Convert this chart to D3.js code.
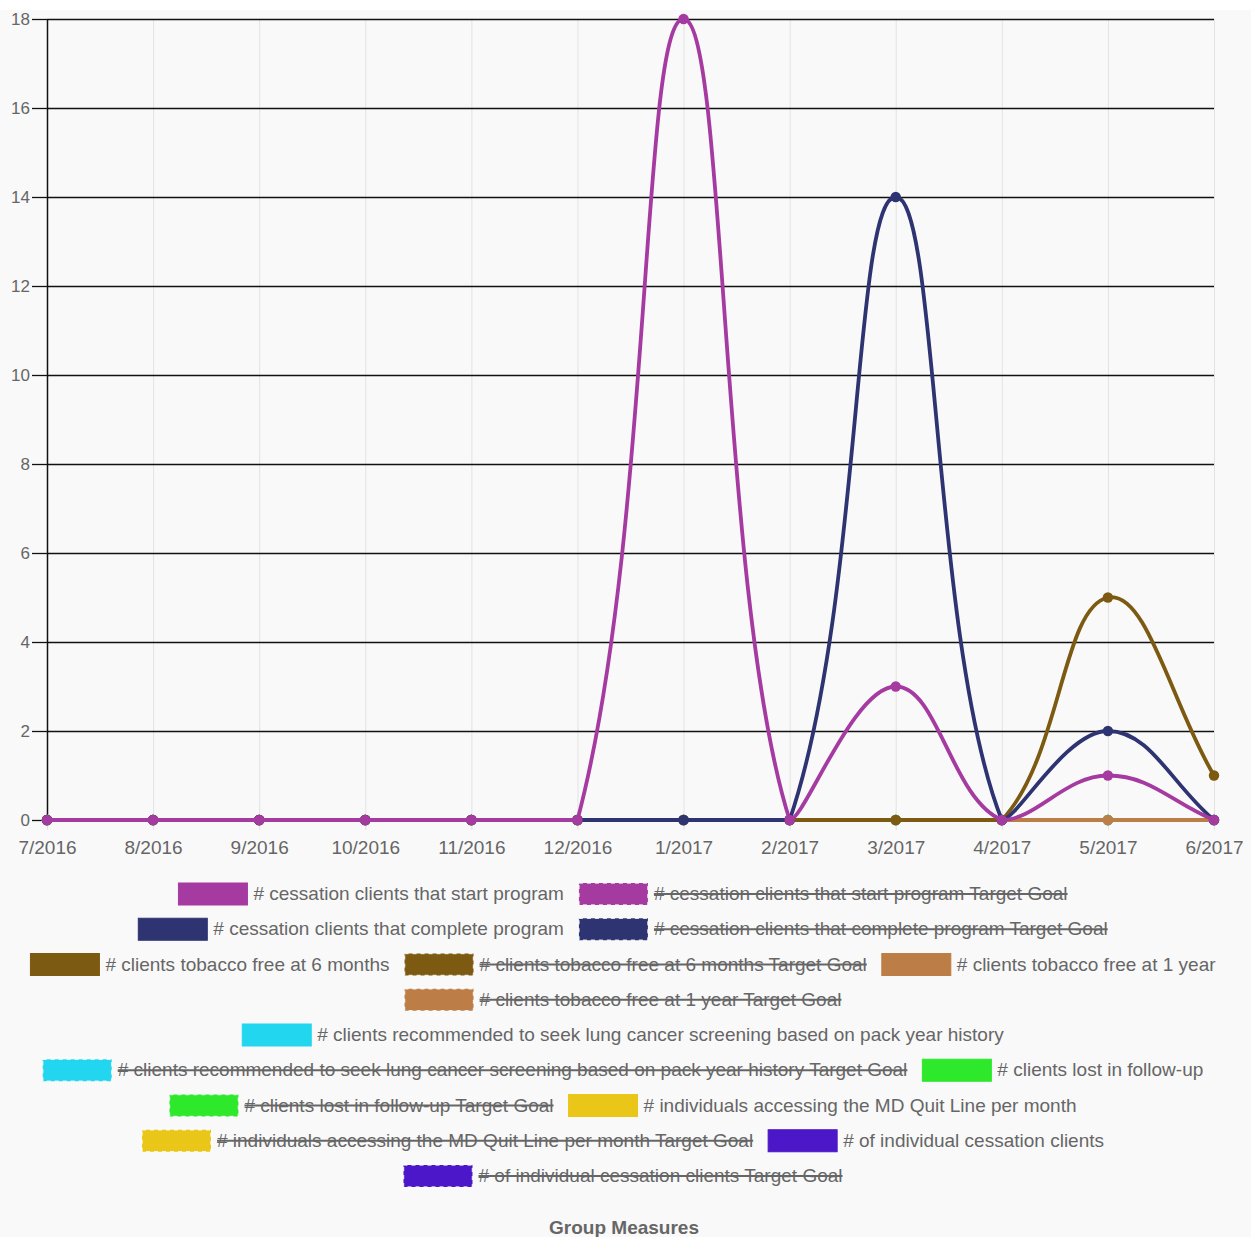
<!DOCTYPE html>
<html><head><meta charset="utf-8">
<script src="https://cdn.jsdelivr.net/npm/d3@7/dist/d3.min.js"></script>
<style>
html,body{margin:0;padding:0;background:#fff;}
svg{display:block;font-family:"Liberation Sans",Arial,Helvetica,sans-serif;}
</style>
</head><body>
<svg id="c" width="1251" height="1237"></svg>
<script>
// ---------- DATA ----------
const months = ["7/2016","8/2016","9/2016","10/2016","11/2016","12/2016","1/2017","2/2017","3/2017","4/2017","5/2017","6/2017"];
const yTicks = [0,2,4,6,8,10,12,14,16,18];

const startProgram      = [0,0,0,0,0,0,18,0,3,0,1,0];
const completeProgram   = [0,0,0,0,0,0,0,0,14,0,2,0];
const freeSixMonths     = [0,0,0,0,0,0,0,0,0,0,5,1];
const freeOneYear       = [0,0,0,0,0,0,0,0,0,0,0,0];
const lungScreening     = [0,0,0,0,0,0,0,0,0,0,0,0];
const lostFollowUp      = [0,0,0,0,0,0,0,0,0,0,0,0];
const quitLine          = [0,0,0,0,0,0,0,0,0,0,0,0];
const individualClients = [0,0,0,0,0,0,0,0,0,0,0,0];

const seriesNames = [
  "# cessation clients that start program",
  "# cessation clients that complete program",
  "# clients tobacco free at 6 months",
  "# clients tobacco free at 1 year",
  "# clients recommended to seek lung cancer screening based on pack year history",
  "# clients lost in follow-up",
  "# individuals accessing the MD Quit Line per month",
  "# of individual cessation clients"
];
const seriesValues = [startProgram, completeProgram, freeSixMonths, freeOneYear, lungScreening, lostFollowUp, quitLine, individualClients];
const seriesColors = ["#a53ba1","#2e3472","#7c5a12","#bd7d46","#22d6ef","#2de82b","#e9c618","#4b17c8"];

const goalSuffix = " Target Goal";
const chartTitle = "Group Measures";

(function(){
// ---------- LAYOUT ----------
const W = 1251, H = 1237;
const pL = 47, pR = 1214, pT = 19, pB = 820;
const svg = d3.select("#c");

svg.append("rect").attr("x",0).attr("y",10).attr("width",W).attr("height",H-10).attr("fill","#f9f9f9");

const x = d3.scalePoint().domain(months).range([pL,pR]);
const y = d3.scaleLinear().domain([0,18]).range([pB,pT]);

// vertical grid (x axis)
const xGrid = svg.append("g").attr("transform",`translate(0,${pB})`)
  .call(d3.axisBottom(x).tickSizeInner(-(pB-pT)).tickSizeOuter(0).tickFormat(""));
xGrid.select(".domain").remove();
xGrid.selectAll("line").attr("stroke","#e3e3e3").attr("stroke-width",1);

const xAxis = svg.append("g").attr("transform",`translate(0,${pB})`)
  .call(d3.axisBottom(x).tickSizeInner(10).tickSizeOuter(0).tickPadding(4));
xAxis.select(".domain").remove();
xAxis.selectAll("line").attr("stroke","#e3e3e3");
xAxis.selectAll("text").attr("fill","#666").style("font-size","19px").attr("y",34).attr("dy",null);

// horizontal grid (y axis)
const yGrid = svg.append("g").attr("transform",`translate(${pL},0)`)
  .call(d3.axisLeft(y).tickValues(yTicks).tickSizeInner(-(pR-pL)).tickSizeOuter(0).tickFormat(""));
yGrid.select(".domain").remove();
yGrid.selectAll("line").attr("stroke","#111").attr("stroke-width",1.3);

const yAxis = svg.append("g").attr("transform",`translate(${pL},0)`)
  .call(d3.axisLeft(y).tickValues(yTicks).tickSizeInner(15).tickSizeOuter(0).tickPadding(2));
yAxis.select(".domain").attr("stroke","#111").attr("stroke-width",1.5);
yAxis.selectAll("line").attr("stroke","#111").attr("stroke-width",1.3);
yAxis.selectAll("text").attr("fill","#666").style("font-size","17px").attr("dy","0.34em");

// ---------- Chart.js-style spline ----------
function splinePath(pts, t){
  const n = pts.length;
  const clampX = v=>Math.max(pL,Math.min(pR,v));
  const clampY = v=>Math.max(pT,Math.min(pB,v));
  const cps = pts.map((p,i)=>{
    const prev = i>0 ? pts[i-1] : p;
    const next = i<n-1 ? pts[i+1] : p;
    const d01 = Math.hypot(p[0]-prev[0], p[1]-prev[1]);
    const d12 = Math.hypot(next[0]-p[0], next[1]-p[1]);
    let s01 = d01/(d01+d12), s12 = d12/(d01+d12);
    if (isNaN(s01)) s01 = 0; if (isNaN(s12)) s12 = 0;
    const fa = t*s01, fb = t*s12;
    return {
      px: clampX(p[0]-fa*(next[0]-prev[0])), py: clampY(p[1]-fa*(next[1]-prev[1])),
      nx: clampX(p[0]+fb*(next[0]-prev[0])), ny: clampY(p[1]+fb*(next[1]-prev[1]))
    };
  });
  const path = d3.path();
  path.moveTo(pts[0][0], pts[0][1]);
  for (let i=1;i<n;i++){
    path.bezierCurveTo(cps[i-1].nx, cps[i-1].ny, cps[i].px, cps[i].py, pts[i][0], pts[i][1]);
  }
  return path.toString();
}

const plot = svg.append("g");
for (let s = seriesValues.length-1; s>=0; s--){
  const pts = seriesValues[s].map((v,i)=>[x(months[i]), y(v)]);
  const g = plot.append("g");
  g.append("path").attr("d", splinePath(pts,0.4)).attr("fill","none")
    .attr("stroke", seriesColors[s]).attr("stroke-width",3.8);
  g.selectAll("circle").data(seriesValues[s]).join("circle")
    .attr("cx",(d,i)=>x(months[i])).attr("cy",d=>y(d)).attr("r",5.2)
    .attr("fill",seriesColors[s]);
}

// ---------- LEGEND ----------
const items = [];
seriesNames.forEach((n,i)=>{
  items.push({text:n, color:seriesColors[i], hidden:false});
  items.push({text:n+goalSuffix, color:seriesColors[i], hidden:true});
});
const boxW = 69, boxH = 22, boxGap = 6, itemGap = 15, maxRow = 1198, rowH = 35.25, firstRowY = 894, centerX = 623;
const meas = svg.append("text").style("font-size","19px");
items.forEach(it=>{ meas.text(it.text); it.tw = meas.node().getComputedTextLength(); it.w = boxW+boxGap+it.tw; });
meas.remove();
const rows = [[]]; let cur = 0;
items.forEach(it=>{
  const add = (rows[rows.length-1].length ? itemGap : 0) + it.w;
  if (rows[rows.length-1].length && cur + add > maxRow){ rows.push([]); cur = 0; }
  cur += (rows[rows.length-1].length ? itemGap : 0) + it.w;
  rows[rows.length-1].push(it);
});
const lg = svg.append("g");
rows.forEach((row,r)=>{
  const total = d3.sum(row,d=>d.w) + itemGap*(row.length-1);
  let xx = centerX - total/2;
  const cy = firstRowY + r*rowH;
  row.forEach(it=>{
    lg.append("rect").attr("x",xx).attr("y",cy-boxH/2).attr("width",boxW).attr("height",boxH)
      .attr("fill",it.color).attr("stroke",it.hidden? "#fff" : it.color)
      .attr("stroke-width",it.hidden?1.5:1).attr("stroke-dasharray",it.hidden?"4,4":null)
      .attr("stroke-opacity",it.hidden?0.8:1);
    const tx = xx+boxW+boxGap;
    lg.append("text").attr("x",tx).attr("y",cy+6).attr("fill","#666").style("font-size","19px").text(it.text);
    if (it.hidden){
      lg.append("line").attr("x1",tx).attr("x2",tx+it.tw).attr("y1",cy).attr("y2",cy)
        .attr("stroke","#666").attr("stroke-width",2);
    }
    xx += it.w + itemGap;
  });
});

svg.append("text").attr("x",624).attr("y",1234).attr("text-anchor","middle")
  .attr("fill","#666").style("font-size","19px").style("font-weight","bold").text(chartTitle);
})();
</script>
</body></html>
